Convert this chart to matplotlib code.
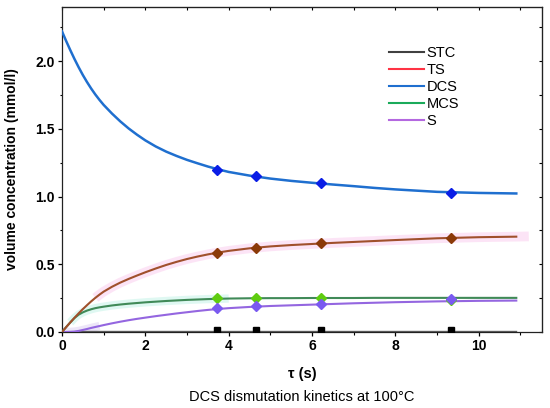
import numpy as np
import matplotlib
matplotlib.use('Agg')
import matplotlib.pyplot as plt
from matplotlib.lines import Line2D

plt.rcParams['font.family'] = ['Liberation Sans', 'DejaVu Sans']

# time grid of the model curves (s)
t = [0, 0.1, 0.2, 0.3, 0.4, 0.5, 0.6, 0.7, 0.8, 0.9, 1.0, 1.2, 1.4, 1.6, 1.8,
     2.0, 2.25, 2.5, 2.75, 3.0, 3.25, 3.5, 3.75, 4.0, 4.5, 5.0, 5.5, 6.0, 6.5,
     7.0, 7.5, 8.0, 9.0, 10.0, 10.9]

dcs = [2.220, 2.149, 2.081, 2.016, 1.955, 1.898, 1.846, 1.798, 1.754, 1.714,
       1.677, 1.613, 1.555, 1.503, 1.457, 1.415, 1.370, 1.332, 1.300, 1.271,
       1.246, 1.222, 1.201, 1.182, 1.155, 1.133, 1.116, 1.102, 1.089, 1.077,
       1.064, 1.053, 1.035, 1.027, 1.023]
ts = [0, 0.036, 0.071, 0.105, 0.138, 0.169, 0.198, 0.226, 0.252, 0.276, 0.298,
      0.334, 0.365, 0.392, 0.417, 0.441, 0.469, 0.495, 0.518, 0.539, 0.557,
      0.573, 0.587, 0.599, 0.618, 0.632, 0.642, 0.650, 0.658, 0.665, 0.672,
      0.679, 0.692, 0.700, 0.704]
mcs = [0, 0.036, 0.071, 0.103, 0.128, 0.145, 0.158, 0.168, 0.176, 0.182, 0.187,
       0.196, 0.203, 0.209, 0.214, 0.219, 0.224, 0.229, 0.233, 0.237, 0.240,
       0.243, 0.245, 0.247, 0.249, 0.250, 0.250, 0.251, 0.251, 0.251, 0.252,
       0.252, 0.252, 0.252, 0.252]
s = [0, 0, 0.001, 0.003, 0.008, 0.015, 0.022, 0.030, 0.037, 0.044, 0.051,
     0.064, 0.076, 0.087, 0.097, 0.106, 0.117, 0.127, 0.137, 0.146, 0.155,
     0.163, 0.170, 0.176, 0.185, 0.192, 0.197, 0.202, 0.207, 0.212, 0.216,
     0.220, 0.226, 0.230, 0.232]
stc = [0, 0.001, 0.001, 0.001, 0.002, 0.002, 0.002, 0.002, 0.002, 0.002, 0.002,
       0.002, 0.002, 0.002, 0.002, 0.002, 0.002, 0.002, 0.002, 0.002, 0.002,
       0.002, 0.002, 0.002, 0.002, 0.002, 0.002, 0.002, 0.002, 0.002, 0.002,
       0.002, 0.002, 0.002, 0.002]

# measured points
t_exp = [3.73, 4.66, 6.22, 9.33]
dcs_exp = [1.20, 1.15, 1.097, 1.03]
ts_exp = [0.587, 0.62, 0.655, 0.697]
mcs_exp = [0.25, 0.25, 0.25, 0.236]
s_exp = [0.175, 0.19, 0.205, 0.244]
stc_exp = [0.013, 0.013, 0.013, 0.014]

fig = plt.figure(figsize=(5.5, 4.08), dpi=100)
ax = fig.add_axes([0.1127, 0.1863, 0.873, 0.7965])

# light bands behind some curves
ax.plot(t[8:] + [11.2], ts[8:] + [0.706], color='#fcdcf3', lw=7, alpha=0.75,
        solid_capstyle='butt', zorder=1)
ax.plot(t[2:24], mcs[2:24], color='#dcf8f1', lw=6, alpha=0.9,
        solid_capstyle='butt', zorder=1)
ax.plot(t[:10], s[:10], color='#e6dcf6', lw=6, alpha=0.7,
        solid_capstyle='butt', zorder=1)

ax.plot(t, stc, color='#606060', lw=1.3, zorder=2)
ax.plot(t, s, color='#9466e0', lw=1.5, zorder=3)
ax.plot(t, mcs, color='#408a58', lw=1.5, zorder=3)
ax.plot(t, ts, color='#a0502c', lw=1.5, zorder=3)
ax.plot(t, dcs, color='#1f6fcf', lw=1.8, zorder=3)

mk = dict(marker='D', ms=5.5, ls='none', zorder=4)
ax.plot(t_exp, mcs_exp, color='#5fcc10', **mk)
ax.plot(t_exp, s_exp, color='#7a5af0', **mk)
ax.plot(t_exp, ts_exp, color='#8b3a08', **mk)
ax.plot(t_exp, dcs_exp, color='#0a1ee6', **mk)
ax.plot(t_exp, stc_exp, color='black', marker='s', ms=4.5, ls='none', zorder=4)

ax.set_xlim(0, 11.52)
ax.set_ylim(0, 2.40)
ax.set_xticks([0, 2, 4, 6, 8, 10])
ax.set_xticks([1, 3, 5, 7, 9, 11], minor=True)
ax.set_yticks([0, 0.5, 1.0, 1.5, 2.0])
ax.set_yticklabels(['0.0', '0.5', '1.0', '1.5', '2.0'])
ax.set_yticks([0.25, 0.75, 1.25, 1.75, 2.25], minor=True)
ax.tick_params(which='major', direction='out', length=3.2, width=0.9,
               labelsize=10, pad=2)
ax.tick_params(which='minor', direction='out', length=1.8, width=0.8)
for lab in ax.get_xticklabels() + ax.get_yticklabels():
    lab.set_fontweight('bold')

# top and right ticks point inwards
top = ax.secondary_xaxis('top')
top.set_xticks(list(range(0, 12)))
top.tick_params(direction='in', length=2.5, width=0.8, labeltop=False)
right = ax.secondary_yaxis('right')
right.set_yticks([0, 0.25, 0.5, 0.75, 1.0, 1.25, 1.5, 1.75, 2.0, 2.25])
right.tick_params(direction='in', length=2.5, width=0.8, labelright=False)

for sp in ax.spines.values():
    sp.set_linewidth(0.9)
    sp.set_color('#222222')

ax.set_xlabel('τ (s)', fontsize=10.5, fontweight='bold', labelpad=10)
ax.set_ylabel('volume concentration (mmol/l)', fontsize=10, fontweight='bold')
ax.yaxis.set_label_coords(-0.089, 0.5)

handles = [Line2D([], [], color='#404040', lw=1.5),
           Line2D([], [], color='#ff3344', lw=1.5),
           Line2D([], [], color='#1f6fcf', lw=1.5),
           Line2D([], [], color='#1aaa5a', lw=1.5),
           Line2D([], [], color='#b468e0', lw=1.5)]
ax.legend(handles, ['STC', 'TS', 'DCS', 'MCS', 'S'], loc='upper left',
          bbox_to_anchor=(0.668, 0.898), frameon=False, fontsize=10.5,
          handlelength=2.4, handletextpad=0.2, labelspacing=0.2,
          borderaxespad=0)

fig.text(0.549, 0.027, 'DCS dismutation kinetics at 100°C', fontsize=10.5,
         ha='center', va='center')

fig.savefig('out.png', dpi=100)
